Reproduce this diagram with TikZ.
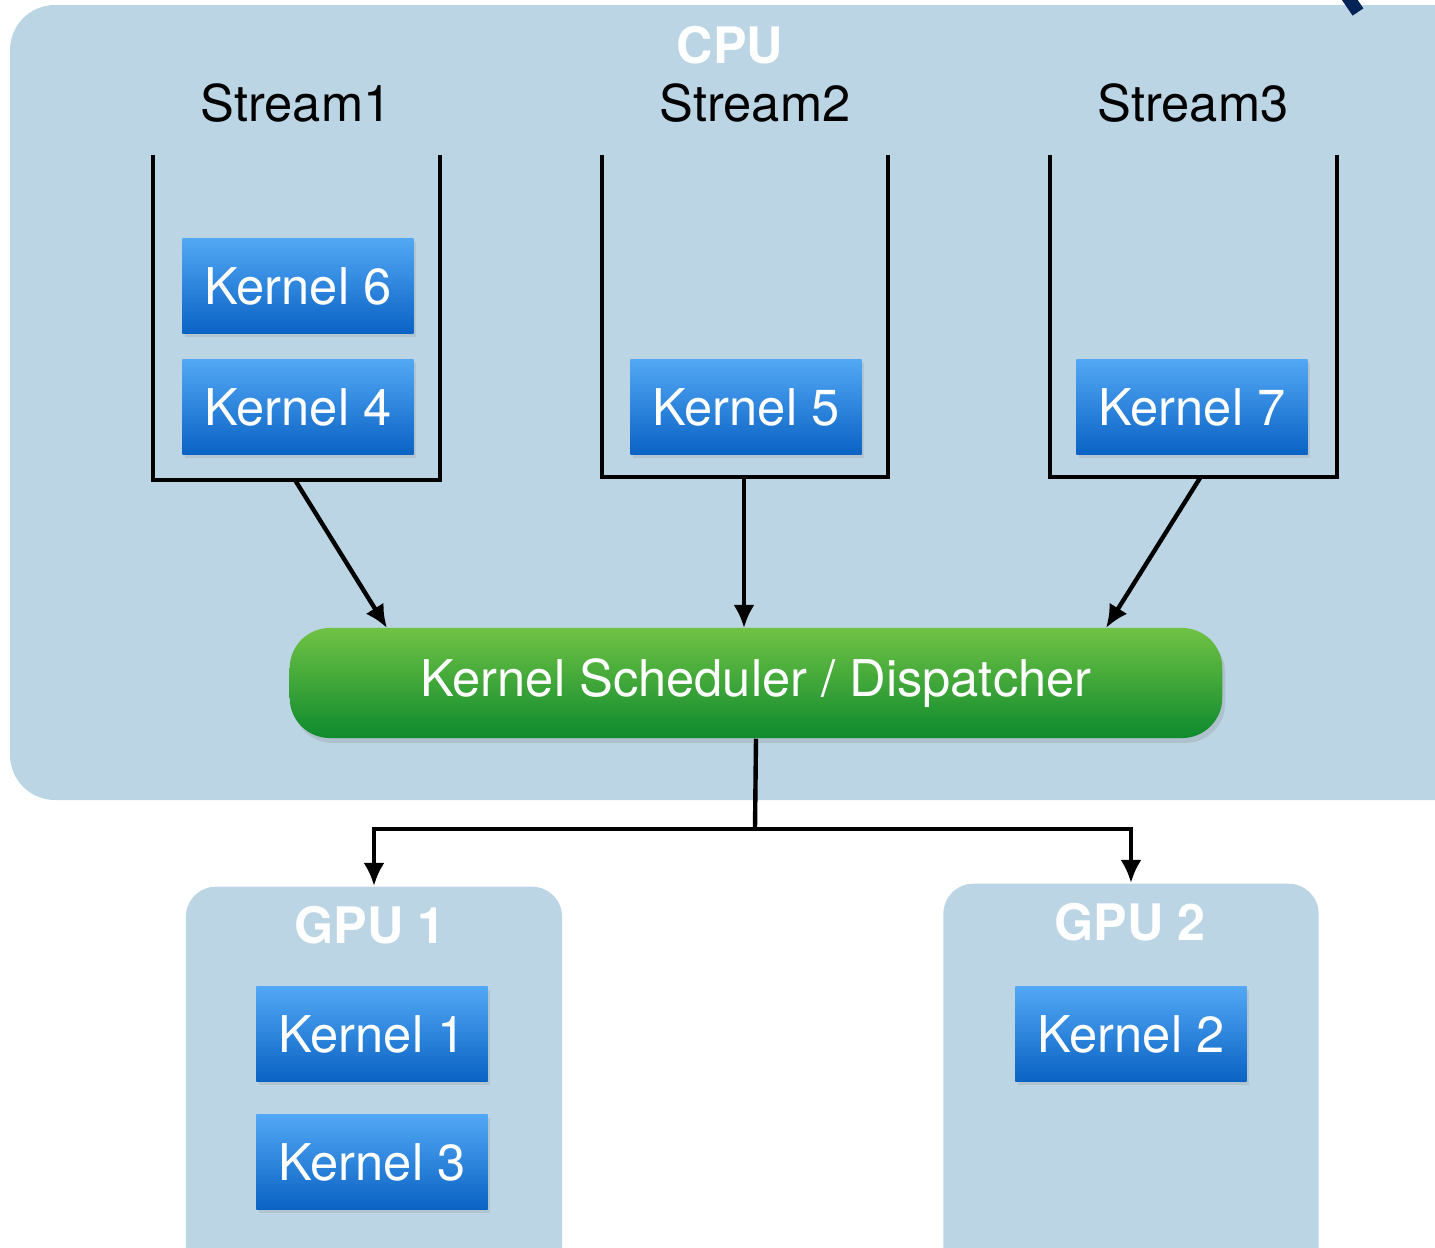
\documentclass[tikz,border=0pt]{standalone}
\usepackage{fontspec}
\setmainfont{TeX Gyre Heros}
\usetikzlibrary{arrows.meta, positioning, shadows}
\definecolor{panelBlue}{RGB}{188,213,228}
\definecolor{kernelTop}{RGB}{82,168,244}
\definecolor{kernelBot}{RGB}{10,98,196}
\definecolor{schedTop}{RGB}{112,194,68}
\definecolor{schedBot}{RGB}{14,138,46}
\definecolor{markNavy}{RGB}{4,36,88}
\tikzset{
    panel/.style={
        fill=panelBlue,
        draw=none
    },
    kernelBox/.style={
        rectangle,
        top color=kernelTop,
        bottom color=kernelBot,
        draw=none,
        minimum width=2.31cm,
        minimum height=0.95cm,
        inner sep=0pt,
        text=white,
        font=\fontsize{14.4}{17}\selectfont,
        drop shadow={opacity=0.18, shadow xshift=0.25mm, shadow yshift=-0.35mm}
    },
    streamWall/.style={
        line width=1.25pt,
        line join=miter
    },
    streamLabel/.style={
        font=\fontsize{14.4}{17}\selectfont
    },
    unitLabel/.style={
        text=white,
        font=\bfseries\fontsize{14.3}{17}\selectfont
    },
    flowArrow/.style={
        line width=1.25pt
    }
}

\begin{document}
\begin{tikzpicture}[x=0.01cm, y=-0.01cm, >={Latex[length=2.3mm, width=2.1mm]}]
    \useasboundingbox (0,0) rectangle (1435,1248);
    \clip (0,0) rectangle (1435,1248);

    % Host side
    \fill[panel, rounded corners=0.45cm] (10,5) rectangle (1500,800);
    \draw[markNavy, line width=0.13cm] (1343,-10) -- (1358,12);
    \node[unitLabel] (cpuLabel) at (730,45) {CPU};

    % Streams
    \node[streamLabel] (stream1Label) at (296,103) {Stream1};
    \node[streamLabel] (stream2Label) at (755,103) {Stream2};
    \node[streamLabel] (stream3Label) at (1193,103) {Stream3};
    \draw[streamWall] (153,155) -- (153,480) -- (440,480) -- (440,155);
    \draw[streamWall] (602,155) -- (602,477) -- (888,477) -- (888,155);
    \draw[streamWall] (1050,155) -- (1050,477) -- (1337,477) -- (1337,155);

    % Queued kernels
    \node[kernelBox] (k6) at (298,286) {Kernel 6};
    \node[kernelBox] (k4) at (298,407) {Kernel 4};
    \node[kernelBox] (k5) at (746,407) {Kernel 5};
    \node[kernelBox] (k7) at (1192,407) {Kernel 7};

    % Scheduler
    \node[rectangle, rounded corners=0.4cm, top color=schedTop, bottom color=schedBot,
          minimum width=9.32cm, minimum height=1.1cm, text=white,
          font=\fontsize{14.4}{17}\selectfont,
          drop shadow={opacity=0.22, shadow xshift=0.3mm, shadow yshift=-0.5mm}]
          (sched) at (756,683) {Kernel Scheduler / Dispatcher};

    % Coordinates
    \coordinate (s1Out) at (295,480);
    \coordinate (s2Out) at (744,478);
    \coordinate (s3Out) at (1200,478);
    \coordinate (s1In) at (387,628);
    \coordinate (s2In) at (744,628);
    \coordinate (s3In) at (1106,628);
    \coordinate (split) at (755,829);

    % Stream to scheduler
    \draw[->, flowArrow] (s1Out) -- (s1In);
    \draw[->, flowArrow] (s2Out) -- (s2In);
    \draw[->, flowArrow] (s3Out) -- (s3In);

    % Devices
    \node[panel, rounded corners=0.3cm, minimum width=3.76cm, minimum height=4.2cm,
          anchor=north] (gpu1) at (374,886) {};
    \node[panel, rounded corners=0.3cm, minimum width=3.75cm, minimum height=4.2cm,
          anchor=north] (gpu2) at (1131,883) {};
    \node[unitLabel] (gpu1Label) at (370,925) {GPU 1};
    \node[unitLabel] (gpu2Label) at (1130,922) {GPU 2};

    \node[kernelBox] (k1) at (372,1034) {Kernel 1};
    \node[kernelBox] (k3) at (372,1162) {Kernel 3};
    \node[kernelBox] (k2) at (1131,1034) {Kernel 2};

    % Dispatch to devices
    \draw[flowArrow] (sched.south) -- (split);
    \draw[->, flowArrow] (split) -| (gpu1.north);
    \draw[->, flowArrow] (split) -| (gpu2.north);
\end{tikzpicture}
\end{document}
